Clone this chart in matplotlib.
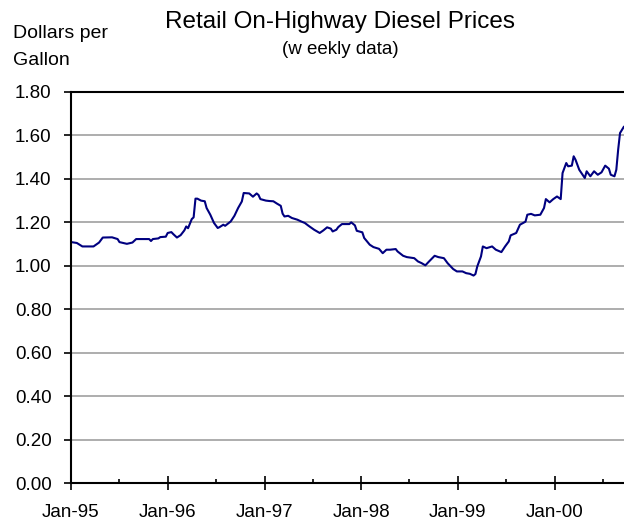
import numpy as np
import pandas as pd
import matplotlib
matplotlib.use('Agg')
import matplotlib.pyplot as plt
import matplotlib.dates as mdates
from matplotlib.ticker import MultipleLocator, FormatStrFormatter

plt.rcParams['font.family'] = ['Liberation Sans', 'DejaVu Sans']

# weekly series, week number counted from the first Monday of 1995
start = '1995-01-02'
week = [0, 3, 6, 12, 15, 17, 22, 25, 26, 30,
        33, 35, 42, 43, 44, 47, 48, 51, 52, 54,
        55, 57, 59, 61, 62, 63, 65, 66, 67, 68,
        70, 72, 73, 75, 77, 79, 80, 82, 83, 86,
        88, 90, 92, 93, 96, 98, 100, 101, 102, 105,
        107, 109, 111, 113, 114, 115, 117, 119, 122, 124,
        126, 128, 131, 132, 134, 136, 138, 140, 141, 143,
        144, 146, 150, 151, 153, 154, 157, 158, 161, 163,
        166, 168, 170, 172, 175, 176, 179, 181, 185, 187,
        189, 191, 193, 196, 198, 201, 203, 206, 208, 211,
        213, 215, 217, 218, 219, 221, 222, 224, 227, 229,
        232, 234, 236, 237, 240, 242, 245, 246, 248, 250,
        253, 255, 256, 258, 260, 262, 264, 265, 267, 268,
        270, 271, 272, 274, 277, 278, 280, 282, 284, 286,
        288, 290, 291, 293, 294, 295, 296, 298]
price = [1.109, 1.105, 1.089, 1.089, 1.107, 1.130, 1.131, 1.123, 1.109, 1.101,
         1.107, 1.123, 1.123, 1.114, 1.123, 1.126, 1.132, 1.134, 1.151, 1.155,
         1.146, 1.130, 1.141, 1.163, 1.181, 1.173, 1.215, 1.223, 1.309, 1.309,
         1.300, 1.297, 1.266, 1.235, 1.197, 1.174, 1.178, 1.189, 1.184, 1.204,
         1.230, 1.266, 1.296, 1.335, 1.333, 1.318, 1.333, 1.326, 1.307, 1.300,
         1.298, 1.297, 1.286, 1.276, 1.240, 1.227, 1.230, 1.220, 1.212, 1.204,
         1.197, 1.184, 1.166, 1.161, 1.151, 1.163, 1.177, 1.171, 1.158, 1.166,
         1.178, 1.192, 1.192, 1.200, 1.186, 1.161, 1.154, 1.128, 1.097, 1.086,
         1.078, 1.058, 1.074, 1.074, 1.077, 1.066, 1.046, 1.040, 1.035, 1.020,
         1.012, 1.002, 1.020, 1.046, 1.040, 1.035, 1.012, 0.985, 0.974, 0.974,
         0.966, 0.963, 0.955, 0.962, 0.997, 1.043, 1.089, 1.081, 1.089, 1.074,
         1.063, 1.089, 1.112, 1.140, 1.151, 1.189, 1.203, 1.235, 1.239, 1.232,
         1.235, 1.266, 1.307, 1.292, 1.307, 1.319, 1.307, 1.427, 1.473, 1.458,
         1.461, 1.504, 1.488, 1.442, 1.404, 1.435, 1.412, 1.435, 1.419, 1.430,
         1.461, 1.447, 1.419, 1.412, 1.442, 1.535, 1.611, 1.639]

dates = pd.Timestamp(start) + pd.to_timedelta(np.array(week) * 7, unit='D')

fig = plt.figure(figsize=(6.24, 5.21), dpi=100)
ax = fig.add_axes([71/624, 38/521, 553/624, 391/521])

ax.plot(dates, price, color='#000080', lw=1.5)

ax.set_ylim(0, 1.8)
ax.set_xlim(pd.Timestamp('1995-01-01'), pd.Timestamp('2000-09-19'))
ax.yaxis.set_major_locator(MultipleLocator(0.2))
ax.yaxis.set_major_formatter(FormatStrFormatter('%.2f'))
ax.xaxis.set_major_locator(mdates.YearLocator())
ax.xaxis.set_minor_locator(mdates.MonthLocator(bymonth=7))
ax.xaxis.set_major_formatter(mdates.DateFormatter('%b-%y'))

ax.grid(axis='y', color='#a0a0a0', lw=1.2)
ax.set_axisbelow(True)
ax.spines['right'].set_visible(False)
for s in ['left', 'bottom', 'top']:
    ax.spines[s].set_linewidth(1.5)
    ax.spines[s].set_color('black')

ax.tick_params(axis='y', direction='out', length=5, width=1.2, labelsize=13.5, pad=9)
ax.tick_params(axis='x', which='major', direction='inout', length=10, width=1.2,
               labelsize=13.5, pad=10)
ax.tick_params(axis='x', which='minor', direction='in', length=3, width=1.2)

fig.text(0.545, 0.958, 'Retail On-Highway Diesel Prices', ha='center', va='center', fontsize=17.5)
fig.text(0.545, 0.905, '(w eekly data)', ha='center', va='center', fontsize=13.5)
fig.text(0.021, 0.936, 'Dollars per', ha='left', va='center', fontsize=14)
fig.text(0.021, 0.883, 'Gallon', ha='left', va='center', fontsize=14)

fig.savefig('out.png', dpi=100)
